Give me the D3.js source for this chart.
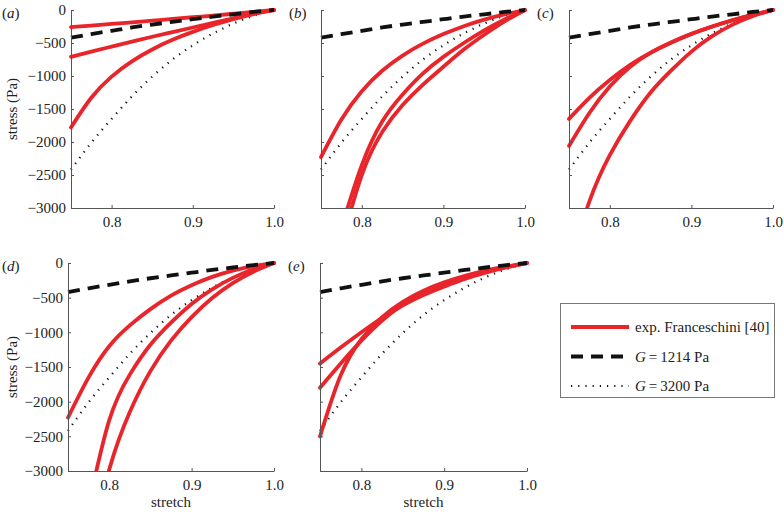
<!DOCTYPE html>
<html><head><meta charset="utf-8">
<script src="https://cdn.jsdelivr.net/npm/d3@7"></script>
<style>
body{margin:0;background:#fff}
svg text{font-family:"Liberation Serif","Times New Roman",serif;fill:#222}
</style>
</head><body>
<svg id="chart" width="784" height="512" font-family="Liberation Serif"></svg>
<script>
// ---- data ----
const stretch = [0.75,0.775,0.8,0.825,0.85,0.875,0.9,0.925,0.95,0.975,1.0];
const stretchTicks = [0.8,0.9,1.0];
const stressTicks = [0,-500,-1000,-1500,-2000,-2500,-3000];
const panelLetters = ["a","b","c","d","e"];
const legendLabels = ["exp. Franceschini [40]","1214 Pa","3200 Pa"];

// model curves (same in every panel)
const modelG1214 = [-420,-365,-315,-265,-220,-180,-140,-100,-65,-30,0];
const modelG3200 = [-2420,-2010,-1650,-1310,-1010,-750,-535,-355,-205,-88,0];

// experimental curves (Franceschini), per panel
const expA1 = [-260,-236,-211,-186,-161,-136,-110,-84,-57,-29,0];
const expA2 = [-710,-630,-555,-480,-405,-335,-265,-195,-125,-55,0];
const expA3 = [-1780,-1330,-1010,-778,-598,-452,-332,-228,-138,-62,0];

const expB1 = [-2230,-1660,-1230,-920,-690,-510,-365,-245,-145,-65,0];
const expB2 = [null,-3300,-2350,-1690,-1280,-960,-710,-500,-310,-145,0];
const expB3 = [null,-3550,-2500,-1850,-1440,-1130,-860,-600,-375,-172,0];

const expC1 = [-1650,-1330,-1060,-830,-645,-492,-362,-252,-156,-73,0];
const expC2 = [-2060,-1560,-1160,-860,-650,-497,-364,-254,-157,-74,0];
const expC3 = [-3900,-2900,-2200,-1680,-1250,-920,-630,-400,-225,-95,0];

const expD1 = [-2230,-1650,-1200,-900,-665,-470,-320,-200,-110,-45,0];
const expD2 = [null,-3500,-2270,-1610,-1180,-860,-590,-380,-215,-90,0];
const expD3 = [null,-4200,-2980,-2150,-1560,-1120,-780,-505,-290,-125,0];

const expE1 = [-1450,-1220,-1000,-790,-610,-460,-340,-230,-140,-65,0];
const expE2 = [-1800,-1450,-1120,-830,-600,-430,-300,-200,-120,-55,0];
const expE3 = [-2500,-1620,-1100,-780,-560,-400,-280,-185,-110,-50,0];

// ---- layout ----
const layout = [
  {left:71, top:10, w:203, h:198, ylab:true,  xlab:false},
  {left:321,top:10, w:204, h:198, ylab:false, xlab:false},
  {left:569,top:10, w:204, h:198, ylab:false, xlab:false},
  {left:68, top:263,w:206, h:208, ylab:true,  xlab:true},
  {left:320,top:263,w:207, h:208, ylab:false, xlab:true}
];
const expSets = [[expA1,expA2,expA3],[expB1,expB2,expB3],[expC1,expC2,expC3],[expD1,expD2,expD3],[expE1,expE2,expE3]];

const RED = "#e8252b";
const FS = 15;
const svg = d3.select("#chart");
const defs = svg.append("defs");
const minusFmt = d => d===0 ? "0" : "\u2212" + Math.abs(d);

layout.forEach((L,i)=>{
  const g = svg.append("g").attr("transform",`translate(${L.left},${L.top})`);
  const x = d3.scaleLinear().domain([0.75,1.0]).range([0,L.w]);
  const y = d3.scaleLinear().domain([-3000,0]).range([L.h,0]);

  const clipId = "clip"+i;
  defs.append("clipPath").attr("id",clipId)
    .append("rect").attr("x",-6).attr("y",-6).attr("width",L.w+12).attr("height",L.h+6);

  const line = d3.line()
    .defined(d=>d[1]!=null)
    .x(d=>x(d[0])).y(d=>y(d[1]))
    .curve(d3.curveNatural);
  const pts = arr => stretch.map((s,k)=>[s,arr[k]]);

  const plot = g.append("g").attr("clip-path",`url(#${clipId})`);
  plot.append("path").attr("d",line(pts(modelG3200)))
    .attr("fill","none").attr("stroke","#111").attr("stroke-width",2.2)
    .attr("stroke-dasharray","1.2,6");
  expSets[i].forEach(arr=>{
    plot.append("path").attr("d",line(pts(arr)))
      .attr("fill","none").attr("stroke",RED).attr("stroke-width",3.8)
      .attr("stroke-linecap","round");
  });
  plot.append("path").attr("d",line(pts(modelG1214)))
    .attr("fill","none").attr("stroke","#111").attr("stroke-width",3.8)
    .attr("stroke-dasharray","12,8");

  const yAxis = d3.axisLeft(y).tickValues(stressTicks).tickSizeInner(-3).tickSizeOuter(0).tickPadding(5)
    .tickFormat(L.ylab ? minusFmt : () => "");
  const ya = g.append("g").call(yAxis);
  const xAxis = d3.axisBottom(x).tickValues(stretchTicks).tickSizeInner(-3).tickSizeOuter(0).tickPadding(8)
    .tickFormat(d3.format(".1f"));
  const xa = g.append("g").attr("transform",`translate(0,${L.h})`).call(xAxis);
  [ya,xa].forEach(a=>{
    a.attr("font-family","Liberation Serif").attr("font-size",FS);
    a.selectAll("path,line").attr("stroke","#555");
    a.selectAll("text").attr("font-size",FS).attr("fill","#222");
  });

  const lt = svg.append("text").attr("x",L.left - (i%3===0?(L.left-2):32)).attr("y",L.top+8)
    .attr("font-size",FS);
  lt.append("tspan").text("(");
  lt.append("tspan").attr("font-style","italic").text(panelLetters[i]);
  lt.append("tspan").text(")");

  if(L.ylab){
    svg.append("text").attr("transform",`translate(17,${L.top+L.h/2}) rotate(-90)`)
      .attr("text-anchor","middle").attr("font-size",FS).text("stress (Pa)");
  }
  if(L.xlab){
    svg.append("text").attr("x",L.left+L.w/2).attr("y",L.top+L.h+36)
      .attr("text-anchor","middle").attr("font-size",FS).text("stretch");
  }
});

// ---- legend ----
const lg = svg.append("g").attr("transform","translate(560,303)");
lg.append("rect").attr("x",0.5).attr("y",0.5).attr("width",214).attr("height",94)
  .attr("fill","#fff").attr("stroke","#777").attr("stroke-width",1);
const styles = [
  {stroke:RED, w:3.8, dash:null},
  {stroke:"#111", w:3.8, dash:"12,8"},
  {stroke:"#111", w:2.2, dash:"1.2,6"}
];
legendLabels.forEach((lab,k)=>{
  const yy = 24 + k*29.5;
  lg.append("line").attr("x1",11).attr("x2",69).attr("y1",yy).attr("y2",yy)
    .attr("stroke",styles[k].stroke).attr("stroke-width",styles[k].w)
    .attr("stroke-dasharray",styles[k].dash);
  const t = lg.append("text").attr("x",75).attr("y",yy+5).attr("font-size",FS);
  if(k===0){ t.text(lab); }
  else {
    t.append("tspan").attr("font-style","italic").text("G");
    t.append("tspan").text("\u2009=\u2009"+lab);
  }
});
</script>
</body></html>
